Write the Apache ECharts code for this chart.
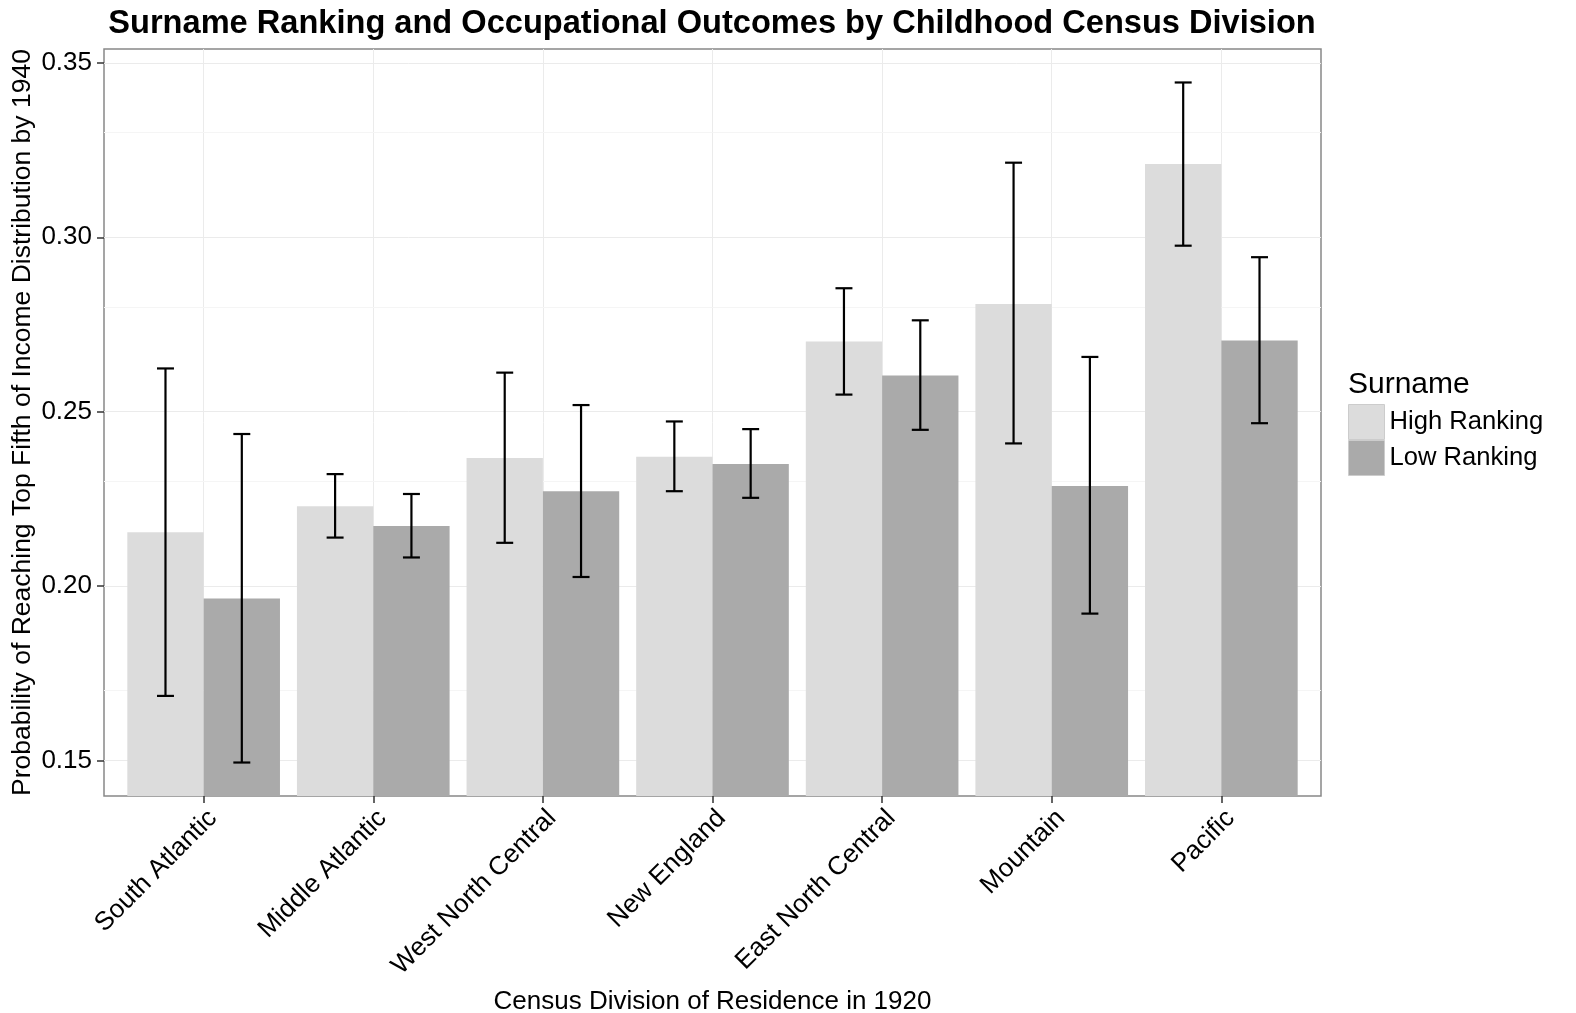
<!DOCTYPE html>
<html>
<head>
<meta charset="utf-8">
<script src="https://cdn.jsdelivr.net/npm/echarts@6/dist/echarts.min.js"></script>
<style>
  html, body { margin: 0; padding: 0; background: #ffffff; }
  #chart { width: 1576px; height: 1013px; }
</style>
</head>
<body>
<div id="chart"></div>
<script>
// Census divisions in plotting order
const categories = ['South Atlantic', 'Middle Atlantic', 'West North Central', 'New England', 'East North Central', 'Mountain', 'Pacific'];

// High-ranking surnames: mean probability and confidence bounds
const highMean  = [0.2154, 0.2229, 0.2367, 0.2371, 0.2701, 0.2809, 0.3210];
const highLower = [0.1685, 0.2139, 0.2124, 0.2272, 0.2549, 0.2409, 0.2976];
const highUpper = [0.2624, 0.2321, 0.2612, 0.2472, 0.2854, 0.3214, 0.3444];

// Low-ranking surnames: mean probability and confidence bounds
const lowMean  = [0.1964, 0.2172, 0.2272, 0.2350, 0.2604, 0.2287, 0.2704];
const lowLower = [0.1494, 0.2082, 0.2026, 0.2253, 0.2448, 0.1921, 0.2467];
const lowUpper = [0.2436, 0.2264, 0.2519, 0.2450, 0.2762, 0.2657, 0.2943];

// Axis ticks
const yTicks = [0.15, 0.20, 0.25, 0.30, 0.35];
const yMinorTicks = [0.175, 0.225, 0.275, 0.325];
const Y_MIN = 0.1398;
const Y_MAX = 0.354;

const FONT = "'Liberation Sans', Arial, Helvetica, sans-serif";
const HIGH_COLOR = '#dcdcdc';
const LOW_COLOR = '#aaaaaa';

// Panel box; the categorical bands sit inside it with 0.6 band of padding at each end
const PANEL = { left: 104, right: 255, top: 49, bottom: 217 };
const panelWidth = 1576 - PANEL.left - PANEL.right;
const band = panelWidth / (categories.length + 1.2);
const inset = 0.1 * band;

// Error bar drawn at the dodged position of its bar
function makeErrorRenderer(offset) {
  return function (params, api) {
    const cat = api.value(0);
    const lo = api.coord([cat, api.value(1)]);
    const hi = api.coord([cat, api.value(2)]);
    const bw = api.size([1, 0])[0];
    const x = lo[0] + offset * bw;
    const half = bw * 0.05;
    const style = { stroke: '#000000', lineWidth: 2.2 };
    return {
      type: 'group',
      children: [
        { type: 'line', shape: { x1: x, y1: lo[1], x2: x, y2: hi[1] }, style: style },
        { type: 'line', shape: { x1: x - half, y1: hi[1], x2: x + half, y2: hi[1] }, style: style },
        { type: 'line', shape: { x1: x - half, y1: lo[1], x2: x + half, y2: lo[1] }, style: style }
      ]
    };
  };
}

const highErr = categories.map((c, i) => [i, highLower[i], highUpper[i]]);
const lowErr = categories.map((c, i) => [i, lowLower[i], lowUpper[i]]);

const chart = echarts.init(document.getElementById('chart'), null, { renderer: 'canvas' });

chart.setOption({
  animation: false,
  backgroundColor: '#ffffff',
  textStyle: { fontFamily: FONT },
  title: [
    {
      text: 'Surname Ranking and Occupational Outcomes by Childhood Census Division',
      left: 712,
      top: 8,
      padding: 0,
      textAlign: 'center',
      textStyle: { fontFamily: FONT, fontSize: 32.6, fontWeight: 'bold', color: '#000000' }
    },
    {
      text: 'Surname',
      left: 1348,
      top: 370,
      padding: 0,
      textStyle: { fontFamily: FONT, fontSize: 30, fontWeight: 'normal', color: '#000000' }
    }
  ],
  legend: {
    orient: 'vertical',
    left: 1348,
    top: 404,
    padding: 0,
    itemWidth: 36,
    itemHeight: 35,
    itemGap: 0,
    icon: 'rect',
    textStyle: { fontFamily: FONT, fontSize: 25.6, color: '#000000' },
    data: [
      { name: 'High Ranking', itemStyle: { color: HIGH_COLOR, borderColor: '#cccccc', borderWidth: 1 } },
      { name: 'Low Ranking', itemStyle: { color: LOW_COLOR, borderColor: '#cccccc', borderWidth: 1 } }
    ]
  },
  grid: [
    {
      // panel: border, value axis, horizontal grid lines
      left: PANEL.left,
      right: PANEL.right,
      top: PANEL.top,
      bottom: PANEL.bottom,
      outerBoundsMode: 'none',
      containLabel: false,
      show: true,
      borderColor: '#888888',
      borderWidth: 1.5,
      backgroundColor: 'transparent'
    },
    {
      // categorical bands
      left: PANEL.left + inset,
      right: PANEL.right + inset,
      top: PANEL.top,
      bottom: PANEL.bottom,
      outerBoundsMode: 'none',
      containLabel: false,
      show: false
    }
  ],
  xAxis: [
    {
      gridIndex: 0,
      type: 'value',
      min: 0,
      max: 1,
      show: false
    },
    {
      gridIndex: 1,
      type: 'category',
      data: categories,
      boundaryGap: true,
      name: 'Census Division of Residence in 1920',
      nameLocation: 'middle',
      nameGap: 193,
      nameMoveOverlap: false,
      nameTextStyle: { fontFamily: FONT, fontSize: 26, color: '#000000' },
      axisLine: { show: false },
      axisTick: { show: true, alignWithLabel: true, length: 7, lineStyle: { color: '#333333', width: 1.5 } },
      axisLabel: { rotate: 45, margin: 9, verticalAlign: 'top', fontFamily: FONT, fontSize: 26, color: '#000000', interval: 0 },
      splitLine: { show: true, alignWithLabel: true, lineStyle: { color: '#ebebeb', width: 1 } }
    }
  ],
  yAxis: [
    {
      gridIndex: 0,
      type: 'value',
      min: Y_MIN,
      max: Y_MAX,
      name: 'Probability of Reaching Top Fifth of Income Distribution by 1940',
      nameLocation: 'middle',
      nameGap: 68,
      nameMoveOverlap: false,
      nameTextStyle: { fontFamily: FONT, fontSize: 26.5, color: '#000000' },
      axisLine: { show: false },
      axisTick: { show: true, length: 7, customValues: yTicks, lineStyle: { color: '#333333', width: 1.5 } },
      axisLabel: {
        margin: 12,
        fontFamily: FONT,
        fontSize: 26,
        color: '#000000',
        customValues: yTicks,
        formatter: function (v) {
          return yTicks.some(t => Math.abs(t - v) < 1e-9) ? v.toFixed(2) : '';
        }
      },
      splitLine: { show: true, lineStyle: { color: '#ebebeb', width: 1 } }
    },
    {
      gridIndex: 1,
      type: 'value',
      min: Y_MIN,
      max: Y_MAX,
      show: false,
      splitLine: { show: false }
    }
  ],
  series: [
    {
      // minor horizontal grid lines across the whole panel
      name: 'minor grid',
      type: 'line',
      xAxisIndex: 0,
      yAxisIndex: 0,
      data: [],
      silent: true,
      z: 0,
      markLine: {
        silent: true,
        z: 0,
        symbol: 'none',
        label: { show: false },
        lineStyle: { color: '#f5f5f5', width: 1, type: 'solid' },
        data: yMinorTicks.map(v => ({ yAxis: v }))
      }
    },
    {
      name: 'High Ranking',
      type: 'bar',
      xAxisIndex: 1,
      yAxisIndex: 1,
      data: highMean,
      barGap: '0%',
      barCategoryGap: '10%',
      z: 2,
      itemStyle: { color: HIGH_COLOR }
    },
    {
      name: 'Low Ranking',
      type: 'bar',
      xAxisIndex: 1,
      yAxisIndex: 1,
      data: lowMean,
      barGap: '0%',
      barCategoryGap: '10%',
      z: 2,
      itemStyle: { color: LOW_COLOR }
    },
    {
      name: 'High Ranking CI',
      type: 'custom',
      xAxisIndex: 1,
      yAxisIndex: 1,
      renderItem: makeErrorRenderer(-0.225),
      data: highErr,
      encode: { x: 0, y: [1, 2] },
      z: 5,
      silent: true
    },
    {
      name: 'Low Ranking CI',
      type: 'custom',
      xAxisIndex: 1,
      yAxisIndex: 1,
      renderItem: makeErrorRenderer(0.225),
      data: lowErr,
      encode: { x: 0, y: [1, 2] },
      z: 5,
      silent: true
    }
  ]
});
</script>
</body>
</html>
